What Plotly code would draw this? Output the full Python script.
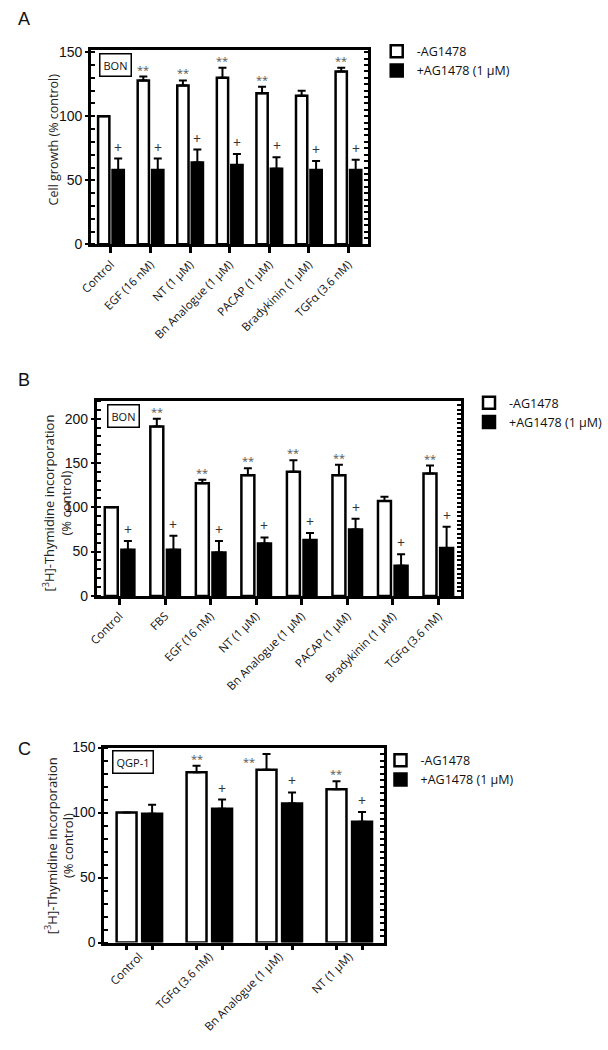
import plotly.graph_objects as go

# ---------------- data ----------------
a_cats = ["Control", "EGF (16 nM)", "NT (1 μM)", "Bn Analogue (1 μM)",
          "PACAP (1 μM)", "Bradykinin (1 μM)", "TGFα (3.6 nM)"]
a_white = [100, 128, 124, 130, 118, 116, 135]
a_white_err = [None, 3, 4, 8, 5, 4, 3]
a_black = [58, 58, 64, 62, 59, 58, 58]
a_black_err = [9, 9, 10, 8.5, 9, 7, 8]
a_white_sig = ["", "**", "**", "**", "**", "", "**"]
a_black_sig = ["+", "+", "+", "+", "+", "+", "+"]

b_cats = ["Control", "FBS", "EGF (16 nM)", "NT (1 μM)", "Bn Analogue (1 μM)",
          "PACAP (1 μM)", "Bradykinin (1 μM)", "TGFα (3.6 nM)"]
b_white = [100, 191, 127, 136, 140, 136, 107, 138]
b_white_err = [None, 9, 4, 8, 13, 12, 5, 9]
b_black = [52, 52, 49, 59, 63, 75, 34, 54]
b_black_err = [10, 16, 13, 7, 8, 12, 13, 24]
b_white_sig = ["", "**", "**", "**", "**", "**", "", "**"]
b_black_sig = ["+", "+", "+", "+", "+", "+", "+", "+"]

c_cats = ["Control", "TGFα (3.6 nM)", "Bn Analogue (1 μM)", "NT (1 μM)"]
c_white = [100, 131, 133, 118]
c_white_err = [None, 5, 12, 6]
c_black = [99, 103, 107, 93]
c_black_err = [7, 7, 8.5, 7.5]
c_white_sig = ["", "**", "**", "**"]
c_black_sig = ["", "+", "+", "+"]

series_names = ["-AG1478", "+AG1478 (1 μM)"]
panel_letters = ["A", "B", "C"]
cell_lines = ["BON", "BON", "QGP-1"]
y_titles = ["Cell growth (% control)",
            "[<sup>3</sup>H]-Thymidine incorporation<br>(% control)",
            "[<sup>3</sup>H]-Thymidine incorporation<br>(% control)"]
y_ranges = [[0, 151.5], [0, 220], [0, 150]]

# ---------------- layout geometry (pixels) ----------------
W, H = 608, 1050
boxes = [  # left, right, top, bottom
    (84, 378, 43, 240),
    (90, 476.5, 399, 597),
    (98, 395, 751, 949),
]
legend_pos = [(387, 29), (485, 386), (391, 749)]
letter_pos = [(4, 11), (4, 378), (4, 752)]
title_pos = [(45, 133), (48, 503), (50, 851)]
title_sizes = [12.5, 13, 13]

FONT = "Open Sans"
NUMFONT = "Liberation Sans"
BARGAP = 0.27
BARGROUPGAP = 0.22
OFF = (1 - BARGAP) / 4
HALFBAR = (1 - BARGAP) / 4 * (1 - BARGROUPGAP)

fig = go.Figure()

panels = [
    (a_cats, a_white, a_white_err, a_black, a_black_err, a_white_sig, a_black_sig),
    (b_cats, b_white, b_white_err, b_black, b_black_err, b_white_sig, b_black_sig),
    (c_cats, c_white, c_white_err, c_black, c_black_err, c_white_sig, c_black_sig),
]

annotations = []
layout_axes = {}
for p, (cats, wv, we, bv, be, ws, bs) in enumerate(panels):
    k = "" if p == 0 else str(p + 1)
    xa, ya = "x" + k, "y" + k
    leg = "legend" + k
    n = len(cats)
    ymax = y_ranges[p][1]
    for name, vals, errs, fill in [(series_names[0], wv, we, "white"),
                                    (series_names[1], bv, be, "black")]:
        fig.add_trace(go.Bar(
            x=cats, y=vals, name=name, xaxis=xa, yaxis=ya, legend=leg,
            marker=dict(color=fill, line=dict(color="black", width=2.5)),
            error_y=dict(type="data", array=errs, arrayminus=[0] * n,
                         symmetric=False, color="black", thickness=2, width=4),
            offsetgroup=fill, showlegend=True,
        ))
    for i in range(n):
        if ws[i]:
            top = wv[i] + (we[i] or 0)
            if top > 0.93 * ymax:
                annotations.append(dict(x=i - OFF - HALFBAR, y=top, xref=xa, yref=ya,
                                        text=ws[i], showarrow=False, xanchor="right",
                                        yanchor="top", yshift=2,
                                        font=dict(family=FONT, size=11, color="#555")))
            else:
                annotations.append(dict(x=i - OFF, y=top, xref=xa, yref=ya, text=ws[i],
                                        showarrow=False, yanchor="bottom", yshift=-2,
                                        font=dict(family=FONT, size=11, color="#555")))
        if bs[i]:
            top = bv[i] + (be[i] or 0)
            annotations.append(dict(x=i + OFF, y=top, xref=xa, yref=ya, text=bs[i],
                                    showarrow=False, yanchor="bottom", yshift=0,
                                    font=dict(family=FONT, size=14, color="#333")))

    l, r, t, b = boxes[p]
    xd = [l / W, r / W]
    yd = [1 - b / H, 1 - t / H]
    xkey = "xaxis" + k
    ykey = "yaxis" + k
    layout_axes[xkey] = dict(
        domain=xd, anchor=ya, type="category", range=[-0.5, n - 0.5],
        showline=True, linecolor="black", linewidth=3, mirror=True,
        ticks="outside" if p < 2 else "", ticklen=6, tickwidth=2.5, tickcolor="black",
        tickangle=-45, tickfont=dict(family=FONT, size=11.5, color="#111"),
        showgrid=False, zeroline=False, fixedrange=True,
    )
    layout_axes[ykey] = dict(
        domain=yd, anchor=xa, range=y_ranges[p],
        showline=True, linecolor="black", linewidth=3,
        ticks="outside", ticklen=3, tickwidth=2, tickcolor="black",
        dtick=50, tick0=0,
        minor=dict(ticks="inside", dtick=10, ticklen=4, tickwidth=1.8, tickcolor="black"),
        tickfont=dict(family=NUMFONT, size=14, color="#111"),
        showgrid=False, zeroline=False,
    )
    # right-hand spine with dense inside ticks
    rnum = str(4 + p)
    layout_axes["yaxis" + rnum] = dict(
        overlaying=ya, anchor=xa, side="right", range=y_ranges[p],
        showline=True, linecolor="black", linewidth=3,
        ticks="inside", ticklen=4, tickwidth=1.8, tickcolor="black",
        dtick=5, tick0=0, showticklabels=False, showgrid=False, zeroline=False,
    )
    fig.add_trace(go.Scatter(x=[None], y=[None], xaxis=xa, yaxis="y" + rnum,
                             showlegend=False, hoverinfo="skip"))
    if p == 2:
        # ticks under every bar in panel C
        tv = []
        for i in range(n):
            tv += [i - OFF, i + OFF]
        layout_axes["xaxis7"] = dict(
            overlaying=xa, anchor=ya, range=[-0.5, n - 0.5], side="bottom",
            tickvals=tv, showticklabels=False, ticks="outside", ticklen=6,
            tickwidth=2.5, tickcolor="black", showline=False, showgrid=False,
            zeroline=False,
        )
        fig.add_trace(go.Scatter(x=[None], y=[None], xaxis="x7", yaxis=ya,
                                 showlegend=False, hoverinfo="skip"))

    # legend
    lx, ly = legend_pos[p]
    layout_axes[leg] = dict(
        x=lx / W, y=1 - ly / H, xanchor="left", yanchor="top",
        xref="paper", yref="paper", bgcolor="rgba(0,0,0,0)",
        font=dict(family=FONT, size=12.5, color="#111"),
        itemwidth=30, tracegroupgap=0, traceorder="normal",
    )

    # cell line box
    annotations.append(dict(
        x=0.028, y=0.985, xref=xa + " domain", yref=ya + " domain",
        xanchor="left", yanchor="top", text=cell_lines[p], showarrow=False,
        bordercolor="black", borderwidth=1.5, borderpad=3, bgcolor="white",
        font=dict(family=FONT, size=11, color="#111"),
    ))
    # panel letter
    px, py = letter_pos[p]
    annotations.append(dict(
        x=px / W, y=1 - py / H, xref="paper", yref="paper", xanchor="left",
        yanchor="middle", text=panel_letters[p], showarrow=False,
        font=dict(family=NUMFONT, size=18, color="#111"),
    ))
    # y title
    tx, ty = title_pos[p]
    annotations.append(dict(
        x=tx / W, y=1 - ty / H, xref="paper", yref="paper", xanchor="center",
        yanchor="middle", text=y_titles[p], textangle=-90, showarrow=False,
        font=dict(family=FONT, size=title_sizes[p], color="#222"),
    ))

fig.update_layout(
    width=W, height=H, autosize=False,
    margin=dict(l=0, r=0, t=0, b=0),
    paper_bgcolor="white", plot_bgcolor="white",
    barmode="group", bargap=BARGAP, bargroupgap=BARGROUPGAP,
    annotations=annotations,
    **layout_axes,
)

fig.write_html("out.html", config={"displayModeBar": False},
               post_script="document.body.style.margin='0';")
